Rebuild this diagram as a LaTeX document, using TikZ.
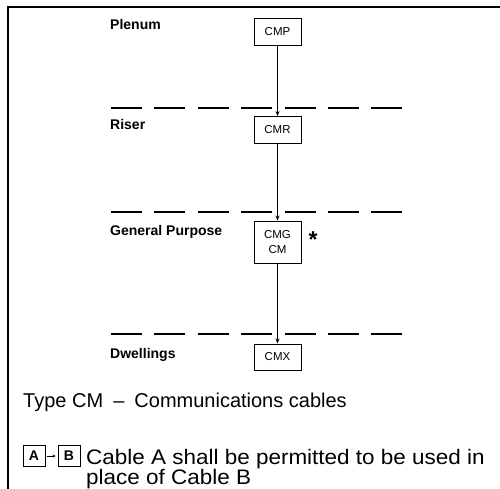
\documentclass[tikz,border=0pt]{standalone}
\usepackage{fontspec}
\setmainfont{Liberation Sans}
\newfontfamily\widesans[FakeStretch=1.07]{Liberation Sans}
\usetikzlibrary{arrows.meta}
\begin{document}
\begin{tikzpicture}[x=1pt,y=-1pt,
  cable/.style={draw,line width=0.9pt,minimum width=47pt,inner sep=0pt,align=center,font=\fontsize{11.5}{15}\selectfont},
  zone/.style={anchor=base west,inner sep=0pt,font=\bfseries\fontsize{14}{16}\selectfont},
  floor/.style={line width=2.8pt,dash pattern=on 31pt off 12.4pt},
  link/.style={line width=0.9pt,-{Stealth[length=5pt,width=4pt]}},
  legbox/.style={draw,line width=0.9pt,minimum width=22pt,minimum height=21pt,inner sep=0pt,font=\bfseries\fontsize{14}{15}\selectfont}]
\useasboundingbox (0,0) rectangle (500,489);
\draw[line width=1.5pt] (8,489) -- (8,7) -- (500,7);
% floors
\draw[floor] (111,108) -- (403,108);
\draw[floor] (111,212) -- (403,212);
\draw[floor] (111,334) -- (403,334);
% zone labels
\node[zone] (lp) at (110,30) {Plenum};
\node[zone] (lr) at (110,130) {Riser};
\node[zone] (lg) at (110,235) {General Purpose};
\node[zone] (ld) at (110,358) {Dwellings};
% cables
\node[cable,minimum height=27pt] (cmp) at (277.5,32) {CMP};
\node[cable,minimum height=27pt] (cmr) at (277.5,130) {CMR};
\node[cable,minimum height=42pt] (cmg) at (277.5,242) {CMG\\CM};
\node[cable,minimum height=26pt] (cmx) at (277.5,357) {CMX};
\node[inner sep=0pt,font=\bfseries\fontsize{23}{23}\selectfont] (star) at (313,240) {*};
\draw[link] (cmp) -- (cmr);
\draw[link] (cmr) -- (cmg);
\draw[link] (cmg) -- (cmx);
% legend
\node[anchor=base west,inner sep=0pt,font=\fontsize{20}{22}\selectfont] (title) at (23,407) {Type CM\hspace{4.5pt} – \hspace{4.5pt}Communications cables};
\node[legbox] (la) at (34,456) {A};
\node[legbox] (lb) at (69,456) {B};
\draw[line width=0.6pt,-{Stealth[length=3pt,width=3pt]},shorten <=2pt,shorten >=2pt] (la) -- (lb);
\node[anchor=north west,inner sep=0pt,align=left,font=\widesans\fontsize{21}{20}\selectfont] (txt) at (86,449) {Cable A shall be permitted to be used in\\place of Cable B};
\end{tikzpicture}
\end{document}
